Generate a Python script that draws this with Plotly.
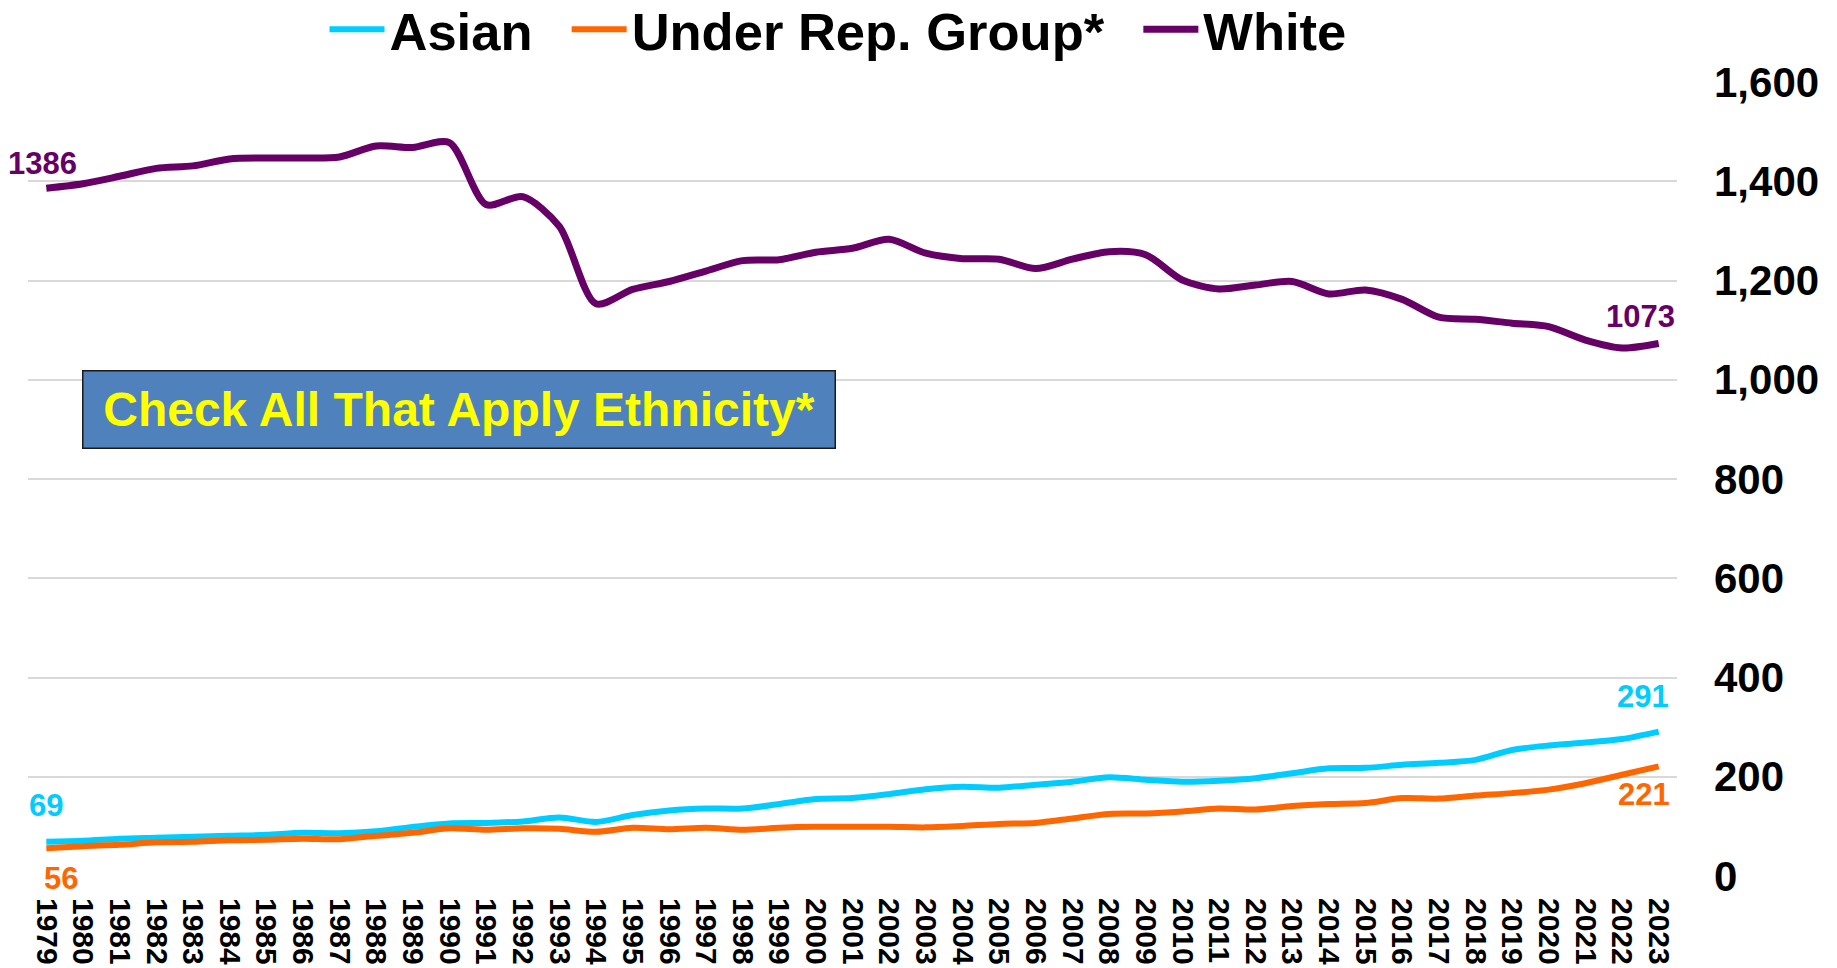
import plotly.graph_objects as go

years = [str(y) for y in range(1979, 2024)]

asian = [69, 71, 75, 77, 79, 81, 83, 87, 86, 90, 99, 106, 107, 110, 118, 109,
         123, 132, 136, 136, 145, 155, 157, 165, 175, 180, 178, 184, 190, 199,
         194, 190, 192, 197, 207, 217, 218, 224, 228, 234, 254, 263, 269, 276, 291]

urg = [56, 60, 63, 68, 69, 72, 73, 75, 74, 81, 87, 96, 93, 96, 95, 89,
       97, 94, 97, 93, 97, 99, 99, 99, 98, 101, 105, 107, 116, 125,
       126, 130, 136, 134, 141, 145, 147, 157, 156, 162, 167, 174, 187, 204, 221]

white = [1386, 1395, 1410, 1426, 1431, 1445, 1447, 1447, 1449, 1471, 1468, 1478,
         1353, 1369, 1309, 1153, 1182, 1198, 1219, 1240, 1242, 1257, 1265, 1283,
         1255, 1244, 1243, 1224, 1243, 1258, 1252, 1201, 1183, 1191, 1198, 1173,
         1181, 1162, 1126, 1122, 1114, 1107, 1080, 1064, 1073]

series_names = ["Asian", "Under Rep. Group*", "White"]
series_colors = ["#00CCFF", "#FF6600", "#660066"]
box_text = "Check All That Apply Ethnicity*"

FONT = "Arial, Liberation Sans, sans-serif"
NB = "\u00a0\u00a0"

fig = go.Figure()
for name, vals, col, w in zip(series_names, [asian, urg, white], series_colors, [6, 6, 7]):
    fig.add_trace(go.Scatter(x=years, y=vals, name=name + NB, mode="lines",
                             line=dict(color=col, width=w, shape="spline", smoothing=0.8),
                             hoverinfo="x+y"))

first, last = 0, len(years) - 1

def lab(i, vals, color, xs, ys):
    fig.add_annotation(x=i, y=vals[i], xref="x", yref="y", text=str(vals[i]), showarrow=False,
                       xshift=xs, yshift=ys,
                       font=dict(family=FONT, size=31, color=color, weight="bold"))

lab(first, white, series_colors[2], -4, 25)
lab(last, white, series_colors[2], -18, 27)
lab(last, asian, series_colors[0], -16, 35)
lab(last, urg, series_colors[1], -15, -28)
lab(first, asian, series_colors[0], 0, 36)
lab(first, urg, series_colors[1], 15, -30)

fig.add_annotation(xref="paper", yref="paper", x=0.2611, y=0.588, text=box_text,
                   showarrow=False, xanchor="center", yanchor="middle",
                   width=751, height=76, bgcolor="#4F81BD", bordercolor="#1a1a1a",
                   borderwidth=1.5, borderpad=0,
                   font=dict(family=FONT, size=48, color="#FFFF00", weight="bold"))

fig.update_layout(
    width=1829, height=960,
    margin=dict(l=20, r=160, t=74, b=92, autoexpand=False),
    paper_bgcolor="white", plot_bgcolor="white",
    font=dict(family=FONT, color="black"),
    showlegend=True,
    legend=dict(orientation="h", x=0.5, xanchor="center", y=1.066, yanchor="middle",
                font=dict(family=FONT, size=52.5, color="black", weight="bold"),
                bgcolor="rgba(0,0,0,0)", itemwidth=55, tracegroupgap=0),
    xaxis=dict(type="category", range=[-0.5, 44.5], showgrid=False, zeroline=False,
               showline=False, tickangle=90, ticks="", automargin=False,
               ticklabelstandoff=21,
               tickfont=dict(family=FONT, size=30, color="black", weight="bold")),
    yaxis=dict(side="right", range=[0, 1600], dtick=200, tickformat=",",
               showgrid=True, gridcolor="#D9D9D9", gridwidth=1.5, zeroline=False,
               showline=False, ticks="", automargin=False, ticklabelstandoff=36,
               tickfont=dict(family=FONT, size=42, color="black", weight="bold")),
)

fig.write_html("out.html")
